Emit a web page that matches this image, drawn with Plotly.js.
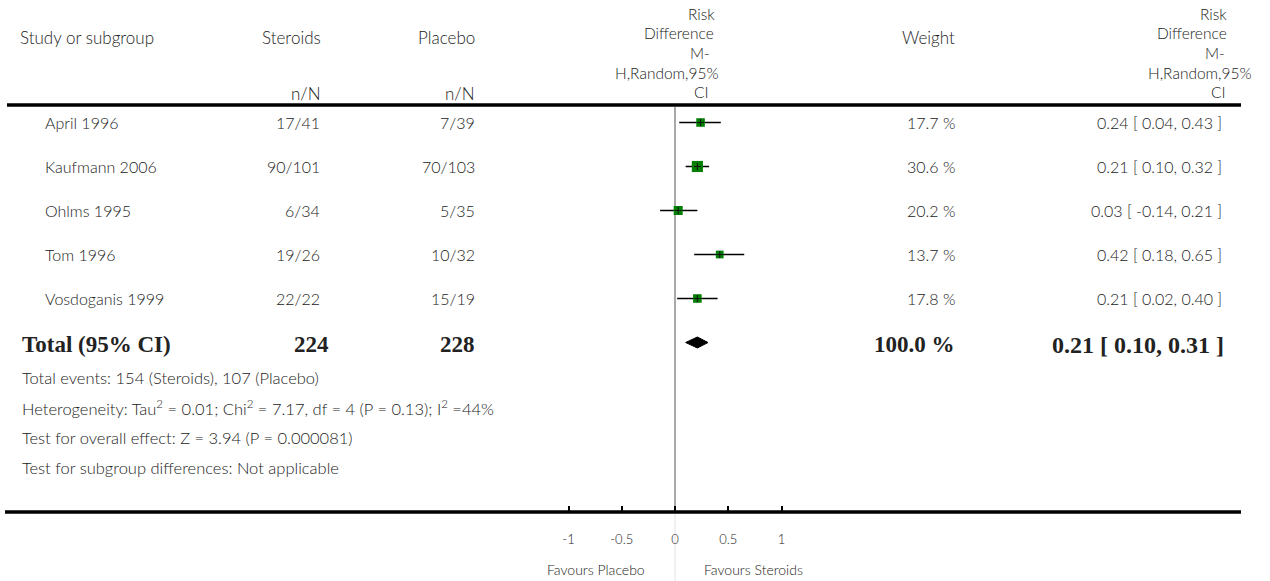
<!DOCTYPE html>
<html>
<head>
<meta charset="utf-8">
<script src="https://cdn.plot.ly/plotly-3.0.1.min.js"></script>
<style>html,body{margin:0;padding:0;background:#fff;}#chart{width:1270px;height:581px;}</style>
</head>
<body>
<div id="chart"></div>
<script>
// ---- data ----
const studies = ["April 1996", "Kaufmann 2006", "Ohlms 1995", "Tom 1996", "Vosdoganis 1999"];
const steroidsEvents = [17, 90, 6, 19, 22];
const steroidsTotal = [41, 101, 34, 26, 22];
const placeboEvents = [7, 70, 5, 10, 15];
const placeboTotal = [39, 103, 35, 32, 19];
const weights = [17.7, 30.6, 20.2, 13.7, 17.8];
const rd = [0.24, 0.21, 0.03, 0.42, 0.21];
const rdLow = [0.04, 0.10, -0.14, 0.18, 0.02];
const rdHigh = [0.43, 0.32, 0.21, 0.65, 0.40];
const totalSteroids = 224;
const totalPlacebo = 228;
const totalWeight = 100.0;
const totalRd = 0.21, totalLow = 0.10, totalHigh = 0.31;
const eventsSteroids = 154, eventsPlacebo = 107;
const tickVals = [-1, -0.5, 0, 0.5, 1];
const tickText = ["-1", "-0.5", "0", "0.5", "1"];
const footerLines = [
  "Total events: " + eventsSteroids + " (Steroids), " + eventsPlacebo + " (Placebo)",
  "Heterogeneity: Tau<sup>2</sup> = 0.01; Chi<sup>2</sup> = 7.17, df = 4 (P = 0.13); I<sup>2</sup> =44%",
  "Test for overall effect: Z = 3.94 (P = 0.000081)",
  "Test for subgroup differences: Not applicable"
];

// ---- layout helpers (pixel -> paper) ----
const W = 1270, H = 581;
const px = x => x / W;
const py = y => 1 - y / H;
const zeroPx = 675, unitPx = 106.5;
const row0 = 122.5, rowGap = 44;
const rows = studies.map((_, i) => i);
const totalRow = studies.length;

const FONT = "Lato, 'Open Sans', sans-serif";
const SERIF = "'Liberation Serif', 'DejaVu Serif', serif";
const TXT = "#222";

const ann = [];
function addText(text, x, y, anchor, opts) {
  opts = opts || {};
  ann.push({
    text: text, xref: "paper", yref: opts.yref || "paper", x: x, y: y,
    xanchor: anchor, yanchor: "middle", showarrow: false,
    font: {family: opts.family || FONT, size: opts.size || 16, color: TXT, weight: opts.weight || 300}
  });
}

// headers
addText("Study or subgroup", px(18), py(37), "left", {size: 17});
addText("Steroids", px(323), py(37), "right", {size: 17});
addText("Placebo", px(477), py(37), "right", {size: 17});
addText("n/N", px(323), py(93), "right", {size: 17});
addText("n/N", px(477), py(93), "right", {size: 17});
addText("Weight", px(957), py(37), "right", {size: 17});
const rdHead = ["Risk", "Difference", "M-", "H,Random,95%", "CI"];
const rdHeadY = [14, 33, 53, 73, 92];
const midRight = [717, 716, 712, 721, 711];
const rightRight = [1229, 1229, 1227, 1254, 1228];
rdHead.forEach((t, i) => {
  addText(t, px(midRight[i]), py(rdHeadY[i]), "right", {size: 15.5});
  addText(t, px(rightRight[i]), py(rdHeadY[i]), "right", {size: 15.5});
});

// study rows
studies.forEach((s, i) => {
  addText(s, px(43), i, "left", {yref: "y"});
  addText(steroidsEvents[i] + "/" + steroidsTotal[i], px(322), i, "right", {yref: "y"});
  addText(placeboEvents[i] + "/" + placeboTotal[i], px(477), i, "right", {yref: "y"});
  addText(weights[i].toFixed(1) + " %", px(957), i, "right", {yref: "y"});
  addText(rd[i].toFixed(2) + " [ " + rdLow[i].toFixed(2) + ", " + rdHigh[i].toFixed(2) + " ]",
          px(1224), i, "right", {yref: "y"});
});

// total row
const boldOpts = {yref: "y", size: 23, family: SERIF, weight: 700};
const ty = totalRow + 0.05;
addText("Total (95% CI)", px(20), ty, "left", boldOpts);
addText(String(totalSteroids), px(331), ty, "right", boldOpts);
addText(String(totalPlacebo), px(477), ty, "right", boldOpts);
addText(totalWeight.toFixed(1) + " %", px(957), ty, "right", boldOpts);
addText(totalRd.toFixed(2) + " [ " + totalLow.toFixed(2) + ", " + totalHigh.toFixed(2) + " ]",
        px(1226), ty, "right", {yref: "y", size: 24, family: SERIF, weight: 700});

// footer
const footY = [378, 408, 438, 468];
footerLines.forEach((t, i) => addText(t, px(20), py(footY[i]), "left", {size: 16.5}));

// favours labels
addText("Favours Placebo", px(647), py(569), "right", {size: 14});
addText("Favours Steroids", px(702), py(569), "left", {size: 14});

// diamond path from total estimate
const dh = 5.5 / rowGap;
const diamond = "M " + totalLow + " " + totalRow +
  " L " + totalRd + " " + (totalRow - dh) +
  " L " + totalHigh + " " + totalRow +
  " L " + totalRd + " " + (totalRow + dh) + " Z";

const shapes = [
  {type: "line", xref: "paper", yref: "paper", x0: px(7), x1: px(1241), y0: py(105), y1: py(105),
   line: {color: "black", width: 3.5}},
  {type: "line", xref: "paper", yref: "paper", x0: px(5), x1: px(1241), y0: py(512), y1: py(512),
   line: {color: "black", width: 3.5}},
  {type: "line", xref: "x", yref: "paper", x0: 0, x1: 0, y0: py(107), y1: py(510),
   line: {color: "#8c8c8c", width: 1.5}, layer: "below"},
  {type: "line", xref: "x", yref: "paper", x0: 0, x1: 0, y0: py(514), y1: py(581),
   line: {color: "#e2e2e2", width: 1}, layer: "below"},
  {type: "path", xref: "x", yref: "y", path: diamond, fillcolor: "black", line: {color: "black", width: 1}}
];

const traces = [
  {
    type: "scatter", mode: "markers", x: rd, y: rows,
    marker: {symbol: "square", color: "#037f03", opacity: 1, size: weights.map(w => 5 + w * 0.2), line: {width: 0}},
    error_x: {type: "data", symmetric: false,
              array: rd.map((v, i) => rdHigh[i] - v),
              arrayminus: rd.map((v, i) => v - rdLow[i]),
              width: 0, thickness: 1.5, color: "black"},
    hoverinfo: "skip", showlegend: false
  },
  {
    type: "scatter", mode: "markers", x: rd, y: rows,
    marker: {symbol: "cross-thin", size: 5, opacity: 1, line: {color: "#111", width: 1}},
    hoverinfo: "skip", showlegend: false
  }
];

const layout = {
  width: W, height: H,
  margin: {l: 0, r: 0, t: 0, b: 0},
  paper_bgcolor: "white", plot_bgcolor: "white",
  showlegend: false,
  xaxis: {
    range: [-zeroPx / unitPx, (W - zeroPx) / unitPx],
    anchor: "free", position: py(512),
    tickvals: tickVals, ticktext: tickText,
    ticks: "inside", ticklen: 6, tickwidth: 2, tickcolor: "black",
    showgrid: false, zeroline: false, showline: false,
    tickfont: {family: FONT, size: 13, color: TXT, weight: 300},
    ticklabelstandoff: 18,
    fixedrange: true
  },
  yaxis: {
    range: [(H - row0) / rowGap, -row0 / rowGap],
    visible: false, showgrid: false, zeroline: false, fixedrange: true
  },
  shapes: shapes,
  annotations: ann
};

Plotly.newPlot("chart", traces, layout, {displayModeBar: false, staticPlot: true});
</script>
</body>
</html>
